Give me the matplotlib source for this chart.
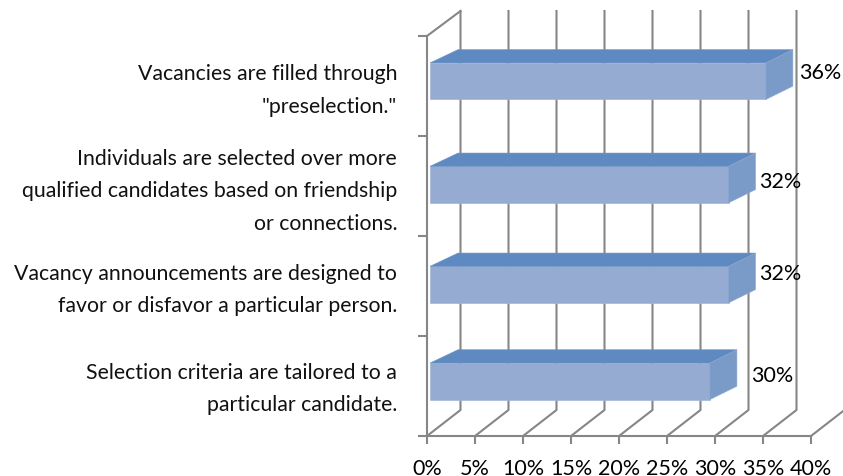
import matplotlib.pyplot as plt
from matplotlib.patches import Polygon
from matplotlib.transforms import IdentityTransform

W, H = 843, 477

categories = ['Vacancies are filled through\n"preselection."',
              'Individuals are selected over more\nqualified candidates based on friendship\nor connections.',
              'Vacancy announcements are designed to\nfavor or disfavor a particular person.',
              'Selection criteria are tailored to a\nparticular candidate.']
values = [36, 32, 32, 30]
x_ticks = [0, 5, 10, 15, 20, 25, 30, 35, 40]

# layout, in pixels from the top left of the picture
bar_centres = [82.2, 185.6, 285.6, 382.3]
label_gap = [6, 4, 4, 14]
label_rise = [9, 4, 12, 6]
text_centres = [90.5, 191.2, 290.2, 389]
row_edges = [37, 137, 237, 337, 437]

plt.rcParams['font.family'] = ['Lato', 'DejaVu Sans']
fig = plt.figure(figsize=(W / 100, H / 100), dpi=100)

# floor and left wall, 48 px for each 5%
ax = fig.add_axes([427 / W, 1 - 437 / H, 384 / W, 400 / H])
ax.set_xlim(0, 40)
ax.set_ylim(437, 37)
ax.patch.set_visible(False)
grey = '#868686'
line_w = 1.5
for s in ['top', 'right']:
    ax.spines[s].set_visible(False)
for s in ['left', 'bottom']:
    ax.spines[s].set_color(grey)
    ax.spines[s].set_linewidth(line_w)
ax.set_xticks(x_ticks)
ax.set_xticklabels([f'{t}%' for t in x_ticks])
ax.set_yticks(row_edges)
ax.set_yticklabels([])
ax.tick_params(axis='x', length=5.5, width=line_w, color=grey, labelsize=15.5, pad=10, labelcolor='black')
ax.tick_params(axis='y', length=6.5, width=line_w, color=grey)


def to_px(x, y, depth=0.0, dx=33.5, dy=26.0):
    px, py = ax.transData.transform((x, y))
    return px + depth * dx, py + depth * dy


# back wall and floor diagonals
for t in x_ticks:
    a = to_px(t, 437)
    b = to_px(t, 437, 1)
    c = to_px(t, 37, 1, dy=25)
    fig.add_artist(plt.Line2D([a[0], b[0], c[0]], [a[1], b[1], c[1]], color=grey, lw=line_w,
                              transform=IdentityTransform(), zorder=1))
a = to_px(0, 37)
b = to_px(0, 37, 1, dy=25)
fig.add_artist(plt.Line2D([a[0], b[0]], [a[1], b[1]], color=grey, lw=line_w,
                          transform=IdentityTransform(), zorder=1))

# bars have their own scale, a bit narrower than the axis
bx = fig.add_axes([430 / W, 0, 9.33 * 40 / W, 1], zorder=3)
bx.set_xlim(0, 40)
bx.set_ylim(H, 0)
bx.axis('off')
bx.barh(bar_centres, values, height=36.5, color='#95abd2', edgecolor='#a3b7d9', linewidth=0.5)

for v, c in zip(values, bar_centres):
    top = c - 18.25
    bottom = c + 18.25
    fl = bx.transData.transform((0, top))
    fr = bx.transData.transform((v, top))
    br = bx.transData.transform((v, bottom))
    d = (27, 13.3)
    bx.add_patch(Polygon([fl, fr, (fr[0] + d[0], fr[1] + d[1]), (fl[0] + d[0] + 1, fl[1] + d[1])],
                         closed=True, facecolor='#5f8ac1', edgecolor='#6b93c6', lw=0.4,
                         transform=IdentityTransform(), clip_on=False))
    bx.add_patch(Polygon([fr, br, (br[0] + d[0], br[1] + d[1]), (fr[0] + d[0], fr[1] + d[1])],
                         closed=True, facecolor='#7a9bc8', edgecolor='#8ba8d0', lw=0.4,
                         transform=IdentityTransform(), clip_on=False))

for v, c, gap, rise in zip(values, bar_centres, label_gap, label_rise):
    bx.annotate(f'{v}%', xy=(v, c), xytext=(27 + gap, rise), textcoords='offset pixels',
                ha='left', va='center', fontsize=15.5, color='black', annotation_clip=False)

for name, y in zip(categories, text_centres):
    bx.annotate(name, xy=(0, y), xytext=(-33, 0), textcoords='offset pixels',
                ha='right', va='center', ma='right', fontsize=15.3, color='#111111',
                linespacing=1.77, annotation_clip=False)

fig.savefig('out.png', dpi=100)
